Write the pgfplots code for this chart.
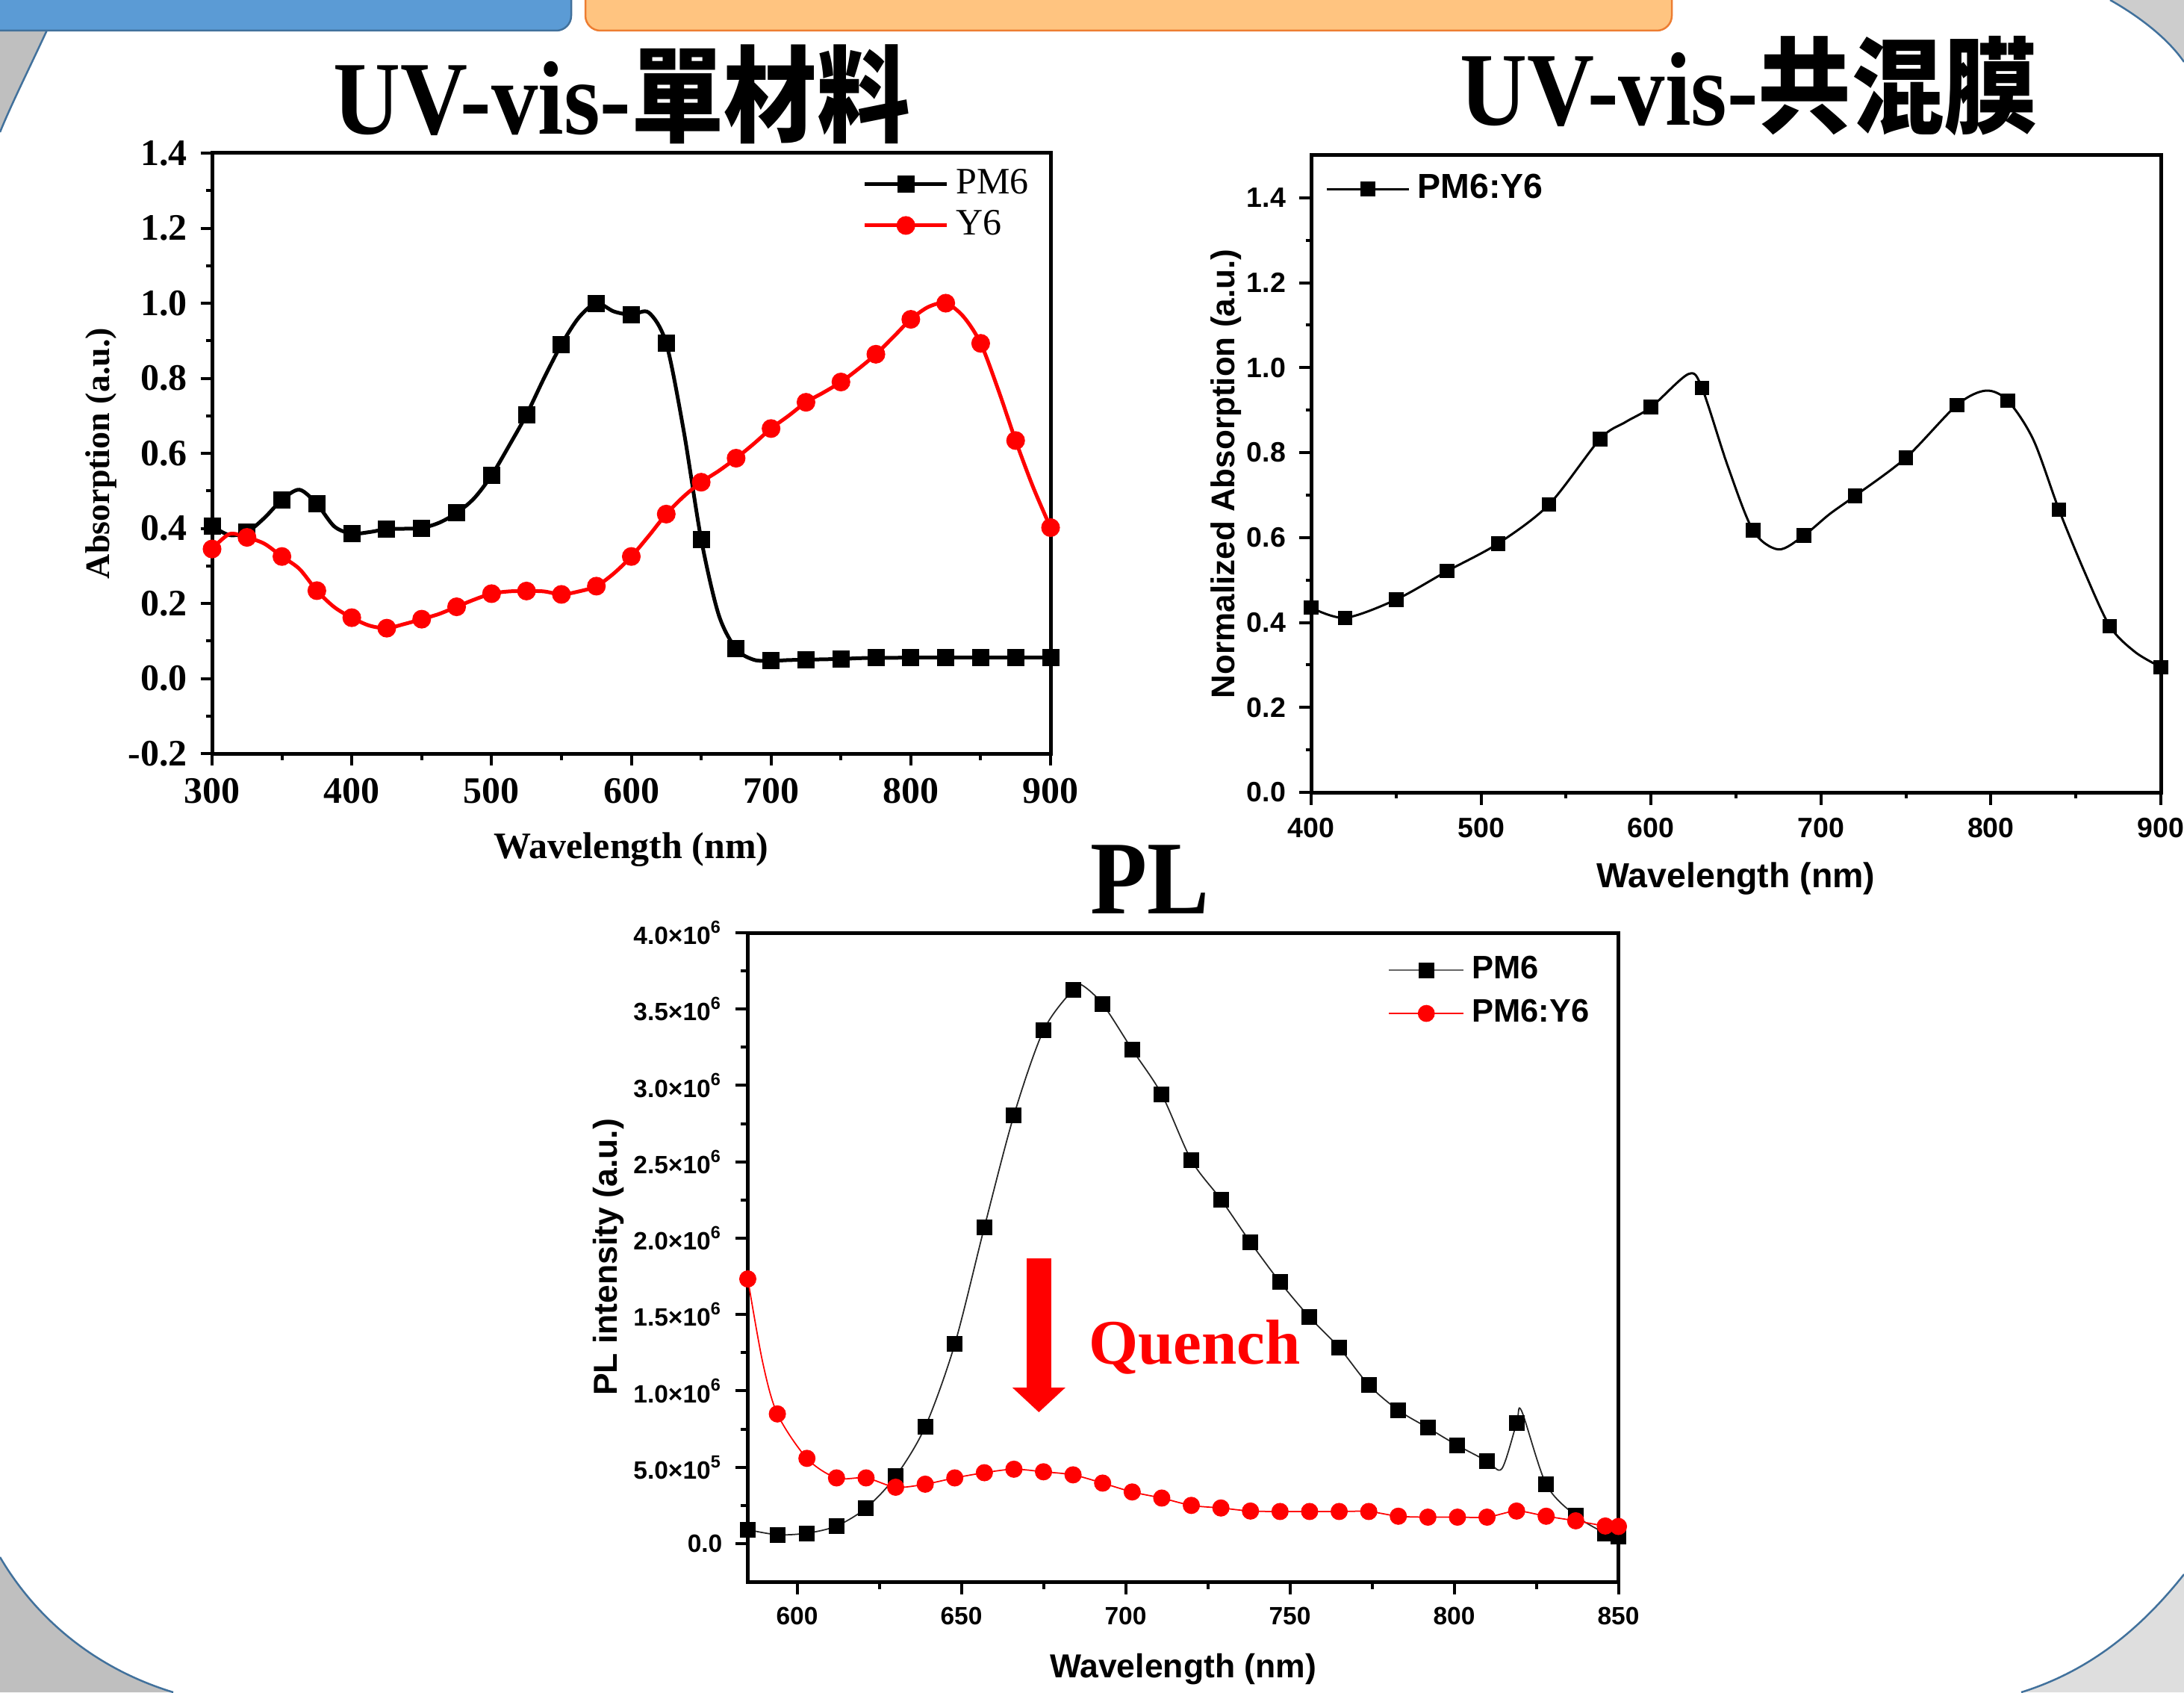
\documentclass[border=0pt]{standalone}
\usepackage{fontspec}
\setmainfont{Liberation Serif}
\newfontfamily\arialfont{Liberation Sans}
\newfontfamily\titlefont[FakeStretch=0.89]{Liberation Serif}
\newfontfamily\cjkfont[FakeStretch=0.89]{Noto Sans CJK TC}
\usepackage{pgfplots}
\usepackage{pgfplotstable}
\pgfplotsset{compat=1.18}
\usetikzlibrary{arrows.meta}
\definecolor{pptblue}{RGB}{91,155,213}
\definecolor{pptblueD}{RGB}{65,113,156}
\definecolor{pptorange}{RGB}{255,196,128}
\definecolor{pptorangeD}{RGB}{237,125,49}
\definecolor{bgA}{RGB}{191,191,191}
\definecolor{bgB}{RGB}{222,222,222}
\definecolor{bgC}{RGB}{205,205,205}

% ---------- Panel 1 data ----------
\pgfplotstableread{
x y
300 0.406
312.5 0.382
325 0.390
337.5 0.428
350 0.476
362.5 0.503
375 0.465
387.5 0.405
400 0.386
412.5 0.390
425 0.398
437.5 0.399
450 0.401
462.5 0.415
475 0.441
487.5 0.480
500 0.541
512.5 0.620
525 0.703
537.5 0.800
550 0.890
562.5 0.962
575 1.000
587.5 0.978
600 0.969
612.5 0.975
625 0.893
637.5 0.660
650 0.371
662.5 0.170
675 0.079
687.5 0.050
700 0.047
712.5 0.049
725 0.050
737.5 0.051
750 0.052
762.5 0.054
775 0.055
787.5 0.055
800 0.056
812.5 0.056
825 0.056
837.5 0.056
850 0.056
862.5 0.056
875 0.056
887.5 0.056
900 0.056
}\pmsixA

\pgfplotstableread{
x y
300 0.345
312.5 0.385
325 0.376
337.5 0.359
350 0.325
362.5 0.292
375 0.234
387.5 0.190
400 0.162
412.5 0.141
425 0.134
437.5 0.145
450 0.158
462.5 0.172
475 0.191
487.5 0.210
500 0.226
512.5 0.232
525 0.233
537.5 0.232
550 0.224
562.5 0.232
575 0.246
587.5 0.280
600 0.325
612.5 0.380
625 0.438
637.5 0.485
650 0.523
662.5 0.553
675 0.587
687.5 0.625
700 0.666
712.5 0.700
725 0.736
737.5 0.762
750 0.790
762.5 0.825
775 0.864
787.5 0.910
800 0.957
812.5 0.990
825 1.000
837.5 0.965
850 0.893
862.5 0.770
875 0.634
887.5 0.510
900 0.402
}\ysixA

% ---------- Panel 2 data ----------
\pgfplotstableread{
x y
400 0.435
420 0.411
450 0.454
480 0.521
510 0.586
540 0.678
570 0.832
585 0.872
600 0.907
622 0.985
630 0.952
645 0.770
660 0.617
675 0.572
690 0.605
705 0.655
720 0.698
750 0.788
780 0.912
797 0.946
810 0.922
825 0.830
840 0.666
855 0.520
870 0.391
885 0.330
900 0.295
}\blendline

\pgfplotstableread{
x y
400 0.435
420 0.411
450 0.454
480 0.521
510 0.586
540 0.678
570 0.832
600 0.907
630 0.952
660 0.617
690 0.605
720 0.698
750 0.788
780 0.912
810 0.922
840 0.666
870 0.391
900 0.295
}\blendmarks

% ---------- Panel 3 data ----------
\pgfplotstableread{
x y
585 91000
594 58000
603 68000
612 115000
621 233000
630 440000
639 765000
648 1306000
657 2071000
666 2805000
675 3360000
684 3628000
693 3533000
702 3235000
711 2941000
720 2511000
729 2254000
738 1973000
747 1712000
756 1482000
765 1283000
774 1039000
783 873000
792 758000
801 643000
810 541000
819 788000
828 389000
837 183000
846 68000
850 47000
}\plpmmarks

\pgfplotstableread{
x y
585 91000
594 58000
603 68000
612 115000
621 233000
630 440000
639 765000
648 1306000
657 2071000
666 2805000
675 3360000
684 3628000
686.5 3660000
693 3533000
702 3235000
711 2941000
720 2511000
729 2254000
738 1973000
747 1712000
756 1482000
765 1283000
774 1039000
783 873000
792 758000
801 643000
810 541000
814.5 490000
819 788000
820.5 870000
828 389000
837 183000
846 68000
850 47000
}\plpmline

\pgfplotstableread{
x y
585 1733000
594 849000
603 558000
612 430000
621 430000
630 369000
639 389000
648 430000
657 464000
666 487000
675 470000
684 450000
693 396000
702 338000
711 298000
720 250000
729 233000
738 213000
747 210000
756 210000
765 210000
774 210000
783 179000
792 173000
801 173000
810 173000
819 213000
828 179000
837 149000
846 115000
850 112000
}\plblendmarks

\pgfplotstableread{
x y
585 1733000
589.5 1190000
594 849000
603 558000
612 430000
621 430000
630 369000
639 389000
648 430000
657 464000
666 487000
675 470000
684 450000
693 396000
702 338000
711 298000
720 250000
729 233000
738 213000
747 210000
756 210000
765 210000
774 210000
783 179000
792 173000
801 173000
810 173000
819 213000
828 179000
837 149000
846 115000
850 112000
}\plblendline

\pgfplotsset{
  panel/.style={
    scale only axis, anchor=south west,
    tick align=outside, tick pos=left,
    axis line style={black, line width=1pt},
    every tick/.style={black, line width=0.8pt},
    /pgf/number format/assume math mode=true,
    legend cell align=left,
    legend image code/.code={\draw[mark repeat=2,mark phase=2] plot coordinates {(0pt,0pt) (11pt,0pt) (22pt,0pt)};},
  },
}

\begin{document}
\begin{tikzpicture}
\useasboundingbox (0,0) rectangle (585pt,453.2pt);
% ---------- slide background ----------
\begin{scope}
\clip (0,0) rectangle (585pt,453.2pt);
\fill[white] (0,0) rectangle (585pt,453.2pt);
\fill[bgA] (0,446pt) -- (13pt,446pt) .. controls (8pt,435.2pt) and (3pt,425.2pt) .. (0,417.8pt) -- cycle;
\draw[pptblueD, line width=0.5pt] (13pt,446pt) .. controls (8pt,435.2pt) and (3pt,425.2pt) .. (0,417.8pt);
\fill[bgA] (0,36.2pt) .. controls (10pt,19.2pt) and (26pt,6.2pt) .. (46.4pt,0) -- (0,0) -- cycle;
\draw[pptblueD, line width=0.5pt] (0,36.2pt) .. controls (10pt,19.2pt) and (26pt,6.2pt) .. (46.4pt,0);
\fill[bgB] (585pt,31.6pt) .. controls (572pt,15.2pt) and (558pt,5.2pt) .. (541.4pt,0) -- (585pt,0) -- cycle;
\draw[pptblueD, line width=0.5pt] (585pt,31.6pt) .. controls (572pt,15.2pt) and (558pt,5.2pt) .. (541.4pt,0);
\fill[bgC] (565.2pt,453.2pt) .. controls (574pt,448.2pt) and (581pt,442.4pt) .. (585pt,436.6pt) -- (585pt,453.2pt) -- cycle;
\draw[pptblueD, line width=0.5pt] (565.2pt,453.2pt) .. controls (574pt,448.2pt) and (581pt,442.4pt) .. (585pt,436.6pt);
\filldraw[fill=pptblue, draw=pptblueD, line width=0.5pt, rounded corners=4pt] (-10pt,445pt) rectangle (153pt,470pt);
\filldraw[fill=pptorange, draw=pptorangeD, line width=0.5pt, rounded corners=4pt] (156.8pt,445pt) rectangle (447.8pt,470pt);
\end{scope}

% ---------- titles ----------
\node[anchor=base, inner sep=0pt, font=\titlefont\bfseries\fontsize{28}{32}\selectfont] at (166.5pt,417.2pt) {UV-vis-{\cjkfont 單材料}};
\node[anchor=base, inner sep=0pt, font=\titlefont\bfseries\fontsize{28}{32}\selectfont] at (468.4pt,419.6pt) {UV-vis-{\cjkfont 共混膜}};
\node[anchor=base, inner sep=0pt, font=\titlefont\bfseries\fontsize{28}{32}\selectfont] at (308pt,208.6pt) {PL};

% ---------- Panel 1 ----------
\begin{axis}[panel,
  at={(56.8pt,251.4pt)}, width=224.6pt, height=160.8pt,
  xmin=300, xmax=900, ymin=-0.2, ymax=1.4,
  xtick={300,400,500,600,700,800,900}, minor x tick num=1,
  ytick={-0.2,0,0.2,0.4,0.6,0.8,1.0,1.2,1.4}, minor y tick num=1,
  major tick length=3.1pt, minor tick length=1.7pt,
  ticklabel style={font=\bfseries\fontsize{10}{12}\selectfont},
  yticklabel style={/pgf/number format/.cd, fixed, fixed zerofill, precision=1},
  xlabel={Wavelength (nm)}, ylabel={Absorption (a.u.)},
  xlabel style={font=\bfseries\fontsize{10}{12}\selectfont, at={(axis description cs:0.5,-0.16)}, anchor=center},
  ylabel style={font=\bfseries\fontsize{9.2}{11}\selectfont, at={(axis description cs:-0.132,0.5)}, anchor=center},
  legend style={draw=none, fill=none, font=\fontsize{10}{12}\selectfont, at={(axis description cs:0.762,1.0)}, anchor=north west, row sep=-1pt},
]
\addplot[black, line width=1pt, smooth, mark=square*, mark size=1.8pt, mark repeat=2, forget plot] table[x=x,y=y] {\pmsixA};
\addplot[red, line width=1pt, smooth, mark=*, mark size=2pt, mark repeat=2, forget plot] table[x=x,y=y] {\ysixA};
\addlegendimage{black, line width=1pt, mark=square*, mark size=1.8pt}
\addlegendentry{PM6}
\addlegendimage{red, line width=1pt, mark=*, mark size=2pt}
\addlegendentry{Y6}
\end{axis}

% ---------- Panel 2 ----------
\begin{axis}[panel,
  at={(351.2pt,241pt)}, width=227.6pt, height=170.6pt,
  xmin=400, xmax=900, ymin=0, ymax=1.5,
  xtick={400,500,600,700,800,900}, minor x tick num=1,
  ytick={0,0.2,0.4,0.6,0.8,1.0,1.2,1.4}, minor y tick num=1,
  major tick length=3.3pt, minor tick length=1.5pt,
  ticklabel style={font=\arialfont\bfseries\fontsize{7.5}{9}\selectfont},
  yticklabel style={/pgf/number format/.cd, fixed, fixed zerofill, precision=1},
  xlabel={Wavelength (nm)}, ylabel={Normalized Absorption (a.u.)},
  xlabel style={font=\arialfont\bfseries\fontsize{9.3}{11}\selectfont, at={(axis description cs:0.5,-0.136)}, anchor=center},
  ylabel style={font=\arialfont\bfseries\fontsize{8.8}{11}\selectfont, at={(axis description cs:-0.100,0.5)}, anchor=center},
  legend style={draw=none, fill=none, font=\arialfont\bfseries\fontsize{9.3}{11}\selectfont, at={(axis description cs:0.003,0.947)}, anchor=west},
]
\addplot[black, line width=0.6pt, smooth, forget plot] table[x=x,y=y] {\blendline};
\addplot[black, only marks, mark=square*, mark size=1.75pt, forget plot] table[x=x,y=y] {\blendmarks};
\addlegendimage{black, line width=0.6pt, mark=square*, mark size=1.75pt}
\addlegendentry{PM6:Y6}
\end{axis}

% ---------- Panel 3 ----------
\begin{axis}[panel,
  at={(200.3pt,29.6pt)}, width=233.2pt, height=173.8pt,
  xmin=585, xmax=850, ymin=-250000, ymax=4000000,
  xtick={600,650,700,750,800,850}, minor x tick num=1,
  ytick={0,500000,1000000,1500000,2000000,2500000,3000000,3500000,4000000}, minor y tick num=1,
  scaled y ticks=false,
  yticklabels={0.0,5.0×10\textsuperscript{5},1.0×10\textsuperscript{6},1.5×10\textsuperscript{6},2.0×10\textsuperscript{6},2.5×10\textsuperscript{6},3.0×10\textsuperscript{6},3.5×10\textsuperscript{6},4.0×10\textsuperscript{6}},
  major tick length=3.3pt, minor tick length=1.9pt,
  ticklabel style={font=\arialfont\bfseries\fontsize{6.7}{8}\selectfont},
  xlabel={Wavelength (nm)}, ylabel={PL intensity (a.u.)},
  xlabel style={font=\arialfont\bfseries\fontsize{8.9}{11}\selectfont, at={(axis description cs:0.5,-0.135)}, anchor=center},
  ylabel style={font=\arialfont\bfseries\fontsize{8.9}{11}\selectfont, at={(axis description cs:-0.160,0.5)}, anchor=center},
  legend style={draw=none, fill=none, font=\arialfont\bfseries\fontsize{8.7}{10.5}\selectfont, at={(axis description cs:0.722,0.909)}, anchor=west, row sep=0pt},
  legend image code/.code={\draw[mark repeat=2,mark phase=2] plot coordinates {(0pt,0pt) (10pt,0pt) (20pt,0pt)};},
]
\addplot[black!85, line width=0.35pt, smooth, forget plot] table[x=x,y=y] {\plpmline};
\addplot[black, only marks, mark=square*, mark size=1.9pt, forget plot] table[x=x,y=y] {\plpmmarks};
\addplot[red, line width=0.35pt, smooth, forget plot] table[x=x,y=y] {\plblendline};
\addplot[red, only marks, mark=*, mark size=2.1pt, forget plot] table[x=x,y=y] {\plblendmarks};
\addlegendimage{black!60, line width=0.35pt, mark=square*, mark size=1.9pt, mark options={black}}
\addlegendentry{PM6}
\addlegendimage{red, line width=0.35pt, mark=*, mark size=2.1pt}
\addlegendentry{PM6:Y6}
\draw[red, line width=6.7pt, -{Triangle[width=13.8pt,length=6.6pt]}] (axis cs:673.6,1868000) -- (axis cs:673.6,860000);
\node[anchor=base west, inner sep=0pt, text=red, font=\rmfamily\bfseries\fontsize{17}{20}\selectfont] at (axis cs:688.6,1177000) {Quench};
\end{axis}
\end{tikzpicture}
\end{document}
